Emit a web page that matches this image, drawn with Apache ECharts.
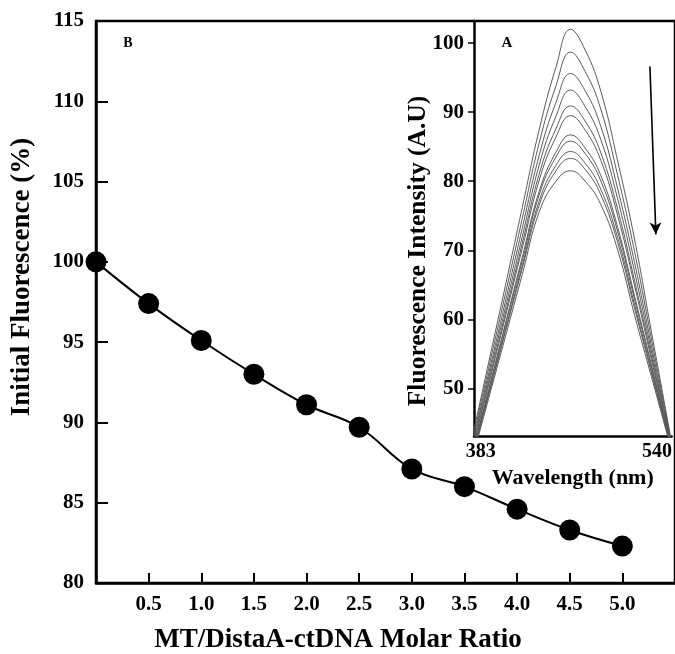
<!DOCTYPE html>
<html>
<head>
<meta charset="utf-8">
<script src="https://cdn.jsdelivr.net/npm/echarts@6/dist/echarts.min.js"></script>
<style>
  html, body { margin: 0; padding: 0; background: #fff; }
  #chart { width: 675px; height: 654px; }
</style>
</head>
<body>
<div id="chart"></div>
<script>
// Panel B: quenching of initial fluorescence vs. molar ratio
const molarRatio = [0, 0.5, 1.0, 1.5, 2.0, 2.5, 3.0, 3.5, 4.0, 4.5, 5.0];
const initialFluorescence = [100, 97.4, 95.1, 93.0, 91.1, 89.7, 87.1, 86.0, 84.6, 83.3, 82.3];

// Panel A: emission spectra at successive additions
const wavelengthNm = [377, 390, 405, 420, 435, 450, 463, 476, 490, 505, 520, 535, 553];
const spectrum01 = [44.0, 53.7, 64.9, 76.2, 87.4, 96.5, 102.0, 99.0, 93.0, 82.9, 71.6, 58.2, 42.2];
const spectrum02 = [43.5, 52.9, 63.7, 74.6, 85.5, 93.8, 98.7, 95.9, 90.4, 80.8, 69.8, 57.2, 42.0];
const spectrum03 = [43.0, 52.1, 62.6, 73.2, 83.7, 91.4, 95.6, 93.1, 87.9, 78.9, 68.2, 56.2, 41.8];
const spectrum04 = [42.6, 51.5, 61.7, 72.0, 82.3, 89.4, 93.2, 90.8, 86.0, 77.4, 66.9, 55.4, 41.7];
const spectrum05 = [42.2, 50.9, 60.9, 71.0, 81.0, 87.6, 90.9, 88.7, 84.1, 75.9, 65.6, 54.7, 41.6];
const spectrum06 = [42.0, 50.5, 60.4, 70.3, 80.1, 86.4, 89.5, 87.4, 83.0, 75.0, 64.9, 54.2, 41.5];
const spectrum07 = [41.5, 49.8, 59.4, 69.0, 78.5, 84.2, 86.7, 84.8, 80.8, 73.3, 63.4, 53.4, 41.3];
const spectrum08 = [41.4, 49.6, 59.1, 68.5, 78.0, 83.5, 85.8, 84.0, 80.0, 72.7, 62.9, 53.1, 41.3];
const spectrum09 = [41.2, 49.2, 58.5, 67.8, 77.1, 82.3, 84.3, 82.6, 78.8, 71.8, 62.1, 52.6, 41.2];
const spectrum10 = [41.0, 49.0, 58.2, 67.4, 76.5, 81.5, 83.3, 81.7, 78.0, 71.1, 61.6, 52.3, 41.1];
const spectrum11 = [40.7, 48.5, 57.5, 66.5, 75.5, 80.0, 81.5, 80.0, 76.6, 70.0, 60.6, 51.7, 41.0];
const spectra = [spectrum01, spectrum02, spectrum03, spectrum04, spectrum05, spectrum06,
                 spectrum07, spectrum08, spectrum09, spectrum10, spectrum11];

// Tick labels
const insetYTicks = [50, 60, 70, 80, 90, 100];
const insetXTicks = [383, 540];

// Direction-of-change arrow in panel A (wavelength, intensity)
const arrowStart = [533.7, 96.6];
const arrowEnd = [539.0, 72.3];

const FONT = 'Liberation Serif';
const chart = echarts.init(document.getElementById('chart'), null, { renderer: 'canvas' });

const insetSeries = spectra.map((vals, i) => {
  const s = {
    type: 'line',
    xAxisIndex: 1,
    yAxisIndex: 1,
    data: wavelengthNm.map((w, k) => [w, vals[k]]),
    smooth: 0.45,
    showSymbol: false,
    lineStyle: { color: '#5a5a5a', width: 1 },
    clip: true,
    silent: true,
    z: 3
  };
  if (i === 0) {
    s.markLine = {
      silent: true,
      symbol: ['none', 'arrow'],
      symbolSize: [9, 12],
      label: { show: false },
      lineStyle: { color: '#000', width: 1.6, type: 'solid' },
      data: [[{ coord: arrowStart }, { coord: arrowEnd }]]
    };
  }
  return s;
});

chart.setOption({
  animation: false,
  backgroundColor: '#fff',
  grid: [
    { left: 96, top: 21, width: 581, height: 562, show: true, borderColor: '#000', borderWidth: 2.5, backgroundColor: 'transparent' },
    { left: 474, top: 21, width: 200, height: 415 }
  ],
  xAxis: [
    {
      type: 'value', gridIndex: 0, min: 0, max: 5.5, interval: 0.5,
      axisLine: { show: true, onZero: false, lineStyle: { color: '#000', width: 2.5 } },
      axisTick: { show: true, inside: true, length: 10, lineStyle: { color: '#000', width: 2 } },
      axisLabel: {
        showMinLabel: false, showMaxLabel: false, margin: 11,
        color: '#000', fontFamily: FONT, fontWeight: 'bold', fontSize: 21,
        formatter: v => v.toFixed(1)
      },
      splitLine: { show: false }
    },
    {
      type: 'value', gridIndex: 1, min: 377, max: 553,
      axisLine: { show: true, onZero: false, lineStyle: { color: '#000', width: 2.5 } },
      axisTick: { show: false },
      axisLabel: {
        customValues: insetXTicks, margin: 6,
        color: '#000', fontFamily: FONT, fontWeight: 'bold', fontSize: 20
      },
      splitLine: { show: false },
      name: 'Wavelength (nm)', nameLocation: 'middle', nameGap: 24,
      nameTextStyle: { color: '#000', fontFamily: FONT, fontWeight: 'bold', fontSize: 22 }
    }
  ],
  yAxis: [
    {
      type: 'value', gridIndex: 0, min: 80, max: 115, interval: 5,
      axisLine: { show: true, onZero: false, lineStyle: { color: '#000', width: 2.5 } },
      axisTick: { show: true, inside: true, length: 12, lineStyle: { color: '#000', width: 2 } },
      axisLabel: { margin: 12, color: '#000', fontFamily: FONT, fontWeight: 'bold', fontSize: 21 },
      splitLine: { show: false }
    },
    {
      type: 'value', gridIndex: 1, min: 43.1, max: 103.2,
      axisLine: { show: true, onZero: false, lineStyle: { color: '#000', width: 2.5 } },
      axisTick: { show: true, inside: false, length: 6, customValues: insetYTicks, lineStyle: { color: '#000', width: 1.5 } },
      axisLabel: { customValues: insetYTicks, margin: 10, color: '#000', fontFamily: FONT, fontWeight: 'bold', fontSize: 21 },
      splitLine: { show: false }
    }
  ],
  graphic: [
    {
      type: 'text', x: 22, y: 277, rotation: Math.PI / 2,
      style: { text: 'Initial Fluorescence (%)', fill: '#000', font: 'bold 27px "Liberation Serif"', align: 'center', verticalAlign: 'middle' }
    },
    {
      type: 'text', x: 338, y: 640,
      style: { text: 'MT/DistaA-ctDNA Molar Ratio', fill: '#000', font: 'bold 27px "Liberation Serif"', align: 'center', verticalAlign: 'middle' }
    },
    {
      type: 'text', x: 418, y: 251, rotation: Math.PI / 2,
      style: { text: 'Fluorescence Intensity (A.U)', fill: '#000', font: 'bold 25.5px "Liberation Serif"', align: 'center', verticalAlign: 'middle' }
    },
    {
      type: 'text', x: 128, y: 43,
      style: { text: 'B', fill: '#000', font: 'bold 14px "Liberation Serif"', align: 'center', verticalAlign: 'middle' }
    },
    {
      type: 'text', x: 507, y: 43,
      style: { text: 'A', fill: '#000', font: 'bold 15px "Liberation Serif"', align: 'center', verticalAlign: 'middle' }
    }
  ],
  series: [
    {
      type: 'line',
      xAxisIndex: 0, yAxisIndex: 0,
      data: molarRatio.map((x, i) => [x, initialFluorescence[i]]),
      smooth: 0.4,
      symbol: 'circle',
      symbolSize: 21,
      itemStyle: { color: '#000' },
      lineStyle: { color: '#000', width: 2 },
      clip: false,
      z: 4
    }
  ].concat(insetSeries)
});
</script>
</body>
</html>
